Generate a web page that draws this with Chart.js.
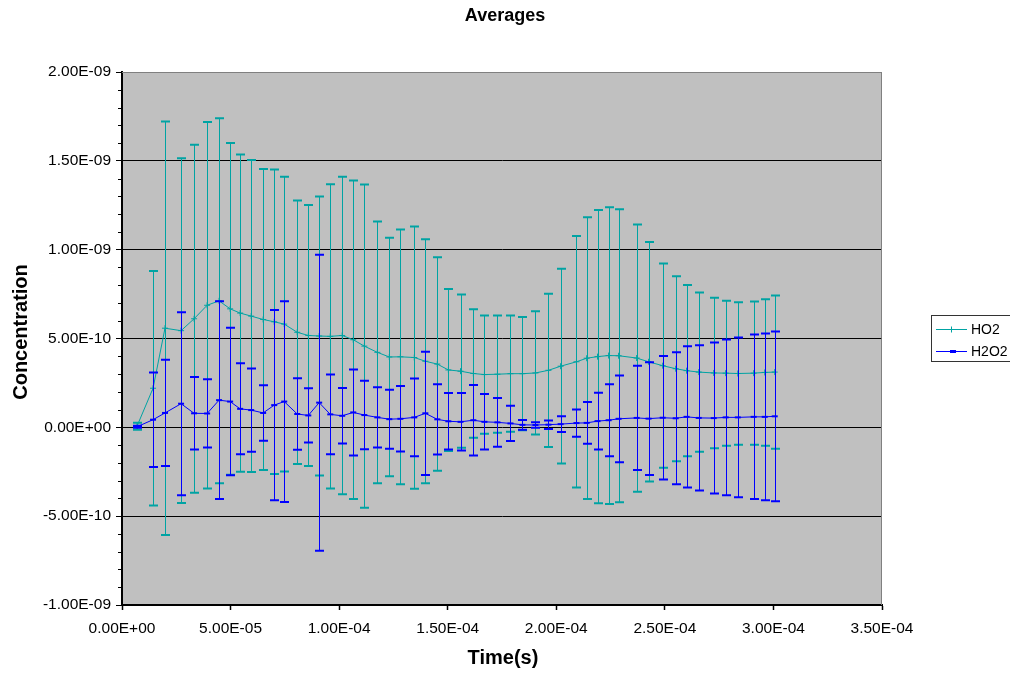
<!DOCTYPE html>
<html>
<head>
<meta charset="utf-8">
<title>Averages</title>
<script src="https://cdn.jsdelivr.net/npm/chart.js@4.4.1/dist/chart.umd.min.js"></script>
<style>
    body { margin: 0; background: #fff; }
    #wrap { width: 1010px; height: 673px; }
</style>
</head>
<body>
<div id="wrap"><canvas id="chart" width="1010" height="673"></canvas></div>
<script>
// -----------------------------
// DATA
// -----------------------------
// sample times, in microseconds
const timeUs = [
    6.9, 14.3, 19.8, 27.2, 33.2, 39.2, 44.7, 49.8, 54.4, 59.5,
    65.0, 70.1, 74.7, 80.7, 85.8, 90.8, 95.9, 101.4, 106.5, 111.6,
    117.6, 123.1, 128.2, 134.6, 139.7, 145.2, 150.3, 155.9, 161.8, 166.9,
    172.9, 178.9, 184.4, 190.4, 196.4, 202.0, 209.3, 214.0, 219.0, 224.1,
    228.7, 237.0, 242.5, 249.0, 255.0, 260.0, 265.6, 272.5, 278.0, 283.6,
    290.9, 296.0, 300.6
];

// averages and error bar sizes, in units of 1E-10
const ho2Avg = [
    0.06, 2.20, 5.58, 5.44, 6.11, 6.87, 7.12, 6.67, 6.43, 6.26,
    6.07, 5.94, 5.81, 5.35, 5.17, 5.14, 5.12, 5.17, 4.93, 4.57,
    4.22, 3.96, 3.97, 3.93, 3.72, 3.56, 3.23, 3.16, 3.03, 2.97,
    2.99, 3.02, 3.02, 3.06, 3.21, 3.44, 3.69, 3.89, 3.98, 4.04,
    4.03, 3.90, 3.69, 3.47, 3.30, 3.19, 3.11, 3.06, 3.05, 3.03,
    3.05, 3.09, 3.11
];
const ho2Err = [
    0.20, 6.60, 11.64, 9.70, 9.79, 10.31, 10.27, 9.34, 8.93, 8.78,
    8.47, 8.57, 8.30, 7.42, 7.34, 7.85, 8.56, 8.93, 8.97, 9.10,
    7.37, 6.71, 7.17, 7.38, 6.87, 6.01, 4.56, 4.31, 3.61, 3.33,
    3.30, 3.27, 3.19, 3.47, 4.31, 5.48, 7.08, 7.93, 8.25, 8.35,
    8.25, 7.52, 6.74, 5.75, 5.21, 4.82, 4.48, 4.24, 4.08, 4.01,
    4.03, 4.12, 4.31
];
const h2o2Avg = [
    0.03, 0.43, 0.81, 1.33, 0.79, 0.78, 1.53, 1.45, 1.04, 0.97,
    0.81, 1.25, 1.45, 0.75, 0.67, 1.39, 0.73, 0.65, 0.84, 0.69,
    0.56, 0.46, 0.48, 0.56, 0.79, 0.45, 0.34, 0.31, 0.40, 0.31,
    0.28, 0.22, 0.14, 0.13, 0.15, 0.18, 0.24, 0.25, 0.35, 0.40,
    0.48, 0.53, 0.49, 0.54, 0.51, 0.59, 0.53, 0.52, 0.56, 0.56,
    0.59, 0.59, 0.62
];
const h2o2Err = [
    0.06, 2.66, 2.99, 5.15, 2.04, 1.92, 5.57, 4.15, 2.56, 2.34,
    1.56, 5.35, 5.65, 2.01, 1.53, 8.33, 2.25, 1.56, 2.42, 1.93,
    1.70, 1.66, 1.84, 2.19, 3.47, 1.98, 1.59, 1.62, 1.98, 1.56,
    1.37, 0.99, 0.27, 0.15, 0.24, 0.44, 0.77, 1.17, 1.60, 2.03,
    2.44, 2.93, 3.17, 3.48, 3.72, 3.98, 4.09, 4.25, 4.38, 4.49,
    4.63, 4.69, 4.78
];

const seriesNames = ["HO2", "H2O2"];
const seriesColors = ["#00A3A3", "#0000FF"];

const FONT = "'Liberation Sans', Arial, sans-serif";


// -----------------------------
// HELPERS
// -----------------------------
function sci(v) {
    if (Math.abs(v) < 1e-15) return "0.00E+00";
    const parts = v.toExponential(2).split("e");
    const sign = parts[1][0] === "-" ? "-" : "+";
    const digits = parts[1].replace(/[+-]/, "").padStart(2, "0");
    return parts[0] + "E" + sign + digits;
}

function toPoints(avg) {
    return avg.map((v, i) => ({ x: timeUs[i] * 1e-6, y: v * 1e-10 }));
}


// -----------------------------
// PLUGINS
// -----------------------------
const plotBackground = {
    id: "plotBackground",
    beforeDraw(chart) {
        const a = chart.chartArea, ctx = chart.ctx;
        ctx.save();
        ctx.fillStyle = "#C0C0C0";
        ctx.fillRect(a.left, a.top, a.right - a.left, a.bottom - a.top);
        ctx.restore();
    },
    beforeDatasetsDraw(chart) {
        const a = chart.chartArea, ctx = chart.ctx;
        ctx.save();
        ctx.strokeStyle = "#808080";
        ctx.lineWidth = 1;
        ctx.beginPath();
        ctx.moveTo(a.left, a.top + 0.5);
        ctx.lineTo(a.right - 0.5, a.top + 0.5);
        ctx.lineTo(a.right - 0.5, a.bottom);
        ctx.stroke();
        ctx.restore();
    }
};

// error bars drawn just before each series line
const errorBars = {
    id: "errorBars",
    beforeDatasetDraw(chart, args) {
        const ds = chart.data.datasets[args.index];
        if (!ds.errors) return;
        const ctx = chart.ctx, y = chart.scales.y;
        ctx.save();
        ctx.strokeStyle = ds.borderColor;
        args.meta.data.forEach((pt, i) => {
            const v = ds.data[i].y, e = ds.errors[i] * 1e-10;
            const top = y.getPixelForValue(v + e);
            const bot = y.getPixelForValue(v - e);
            const x = Math.round(pt.x) + 0.5;
            ctx.lineWidth = 1;
            ctx.beginPath();
            ctx.moveTo(x, top);
            ctx.lineTo(x, bot);
            ctx.stroke();
            ctx.lineWidth = 2;
            ctx.beginPath();
            ctx.moveTo(x - 4.5, top);
            ctx.lineTo(x + 4.5, top);
            ctx.moveTo(x - 4.5, bot);
            ctx.lineTo(x + 4.5, bot);
            ctx.stroke();
        });
        ctx.restore();
    }
};

// titles, minor ticks and the legend box
const decorations = {
    id: "decorations",
    afterDraw(chart) {
        const ctx = chart.ctx, a = chart.chartArea, y = chart.scales.y;
        ctx.save();

        // minor ticks on the y axis
        ctx.strokeStyle = "#000";
        ctx.lineWidth = 1;
        for (let k = -10; k <= 20; k++) {
            if (k % 5 === 0) continue;
            const py = Math.round(y.getPixelForValue(k * 1e-10)) + 0.5;
            ctx.beginPath();
            ctx.moveTo(a.left - 4, py);
            ctx.lineTo(a.left, py);
            ctx.stroke();
        }

        ctx.fillStyle = "#000";
        ctx.textAlign = "center";
        ctx.textBaseline = "middle";

        ctx.font = "bold 18px " + FONT;
        ctx.fillText("Averages", 505, 16);

        ctx.font = "bold 20px " + FONT;
        ctx.fillText("Time(s)", 503, 658);

        ctx.save();
        ctx.translate(21, 332);
        ctx.rotate(-Math.PI / 2);
        ctx.fillText("Concentration", 0, 0);
        ctx.restore();

        // legend
        ctx.fillStyle = "#fff";
        ctx.fillRect(931, 315, 90, 46);
        ctx.strokeStyle = "#333";
        ctx.lineWidth = 1;
        ctx.strokeRect(931.5, 315.5, 90, 46);

        const rows = [329.5, 351.5];
        ctx.font = "14px " + FONT;
        ctx.textAlign = "left";
        rows.forEach((ry, i) => {
            ctx.strokeStyle = seriesColors[i];
            ctx.lineWidth = 1;
            ctx.beginPath();
            ctx.moveTo(936, ry);
            ctx.lineTo(967, ry);
            ctx.stroke();
            if (i === 0) {
                ctx.beginPath();
                ctx.moveTo(951.5, ry - 3);
                ctx.lineTo(951.5, ry + 3);
                ctx.stroke();
            } else {
                ctx.fillStyle = seriesColors[i];
                ctx.fillRect(950, ry - 1.5, 6, 3);
            }
            ctx.fillStyle = "#000";
            ctx.fillText(seriesNames[i], 971, ry + 1);
        });

        ctx.restore();
    }
};


// -----------------------------
// CHART
// -----------------------------
const tickFont = { family: FONT, size: 15.5 };

new Chart(document.getElementById("chart").getContext("2d"), {
    type: "line",
    data: {
        datasets: [
            {
                label: seriesNames[0],
                data: toPoints(ho2Avg),
                errors: ho2Err,
                borderColor: seriesColors[0],
                backgroundColor: seriesColors[0],
                borderWidth: 1,
                pointStyle: "cross",
                pointRadius: 3,
                pointBorderWidth: 1,
                tension: 0,
                order: 2
            },
            {
                label: seriesNames[1],
                data: toPoints(h2o2Avg),
                errors: h2o2Err,
                borderColor: seriesColors[1],
                backgroundColor: seriesColors[1],
                borderWidth: 1,
                pointStyle: "line",
                pointRadius: 3,
                pointBorderWidth: 2,
                tension: 0,
                order: 1
            }
        ]
    },
    options: {
        responsive: false,
        animation: false,
        devicePixelRatio: 1,
        layout: { padding: { top: 72, right: 128, left: 0, bottom: 0 } },
        plugins: {
            legend: { display: false },
            title: { display: false },
            tooltip: { enabled: false }
        },
        scales: {
            x: {
                type: "linear",
                min: 0,
                max: 3.5e-4,
                afterFit(s) { s.height = 68; },
                ticks: {
                    stepSize: 5e-5,
                    callback: sci,
                    font: tickFont,
                    color: "#000",
                    padding: 9,
                    maxRotation: 0,
                    autoSkip: false
                },
                grid: { drawOnChartArea: false, tickLength: 5, color: "#000", tickWidth: 1.5 },
                border: { color: "#000", width: 2 }
            },
            y: {
                min: -1e-9,
                max: 2e-9,
                afterFit(s) { s.width = 122; },
                ticks: {
                    stepSize: 5e-10,
                    callback: sci,
                    font: tickFont,
                    color: "#000",
                    padding: 5
                },
                grid: {
                    color: ctx => (ctx.tick && ctx.tick.value > 1.9e-9) ? "#808080" : "#000",
                    tickColor: "#000",
                    lineWidth: 1,
                    tickLength: 6
                },
                border: { color: "#000", width: 2 }
            }
        }
    },
    plugins: [plotBackground, errorBars, decorations]
});
</script>
</body>
</html>
